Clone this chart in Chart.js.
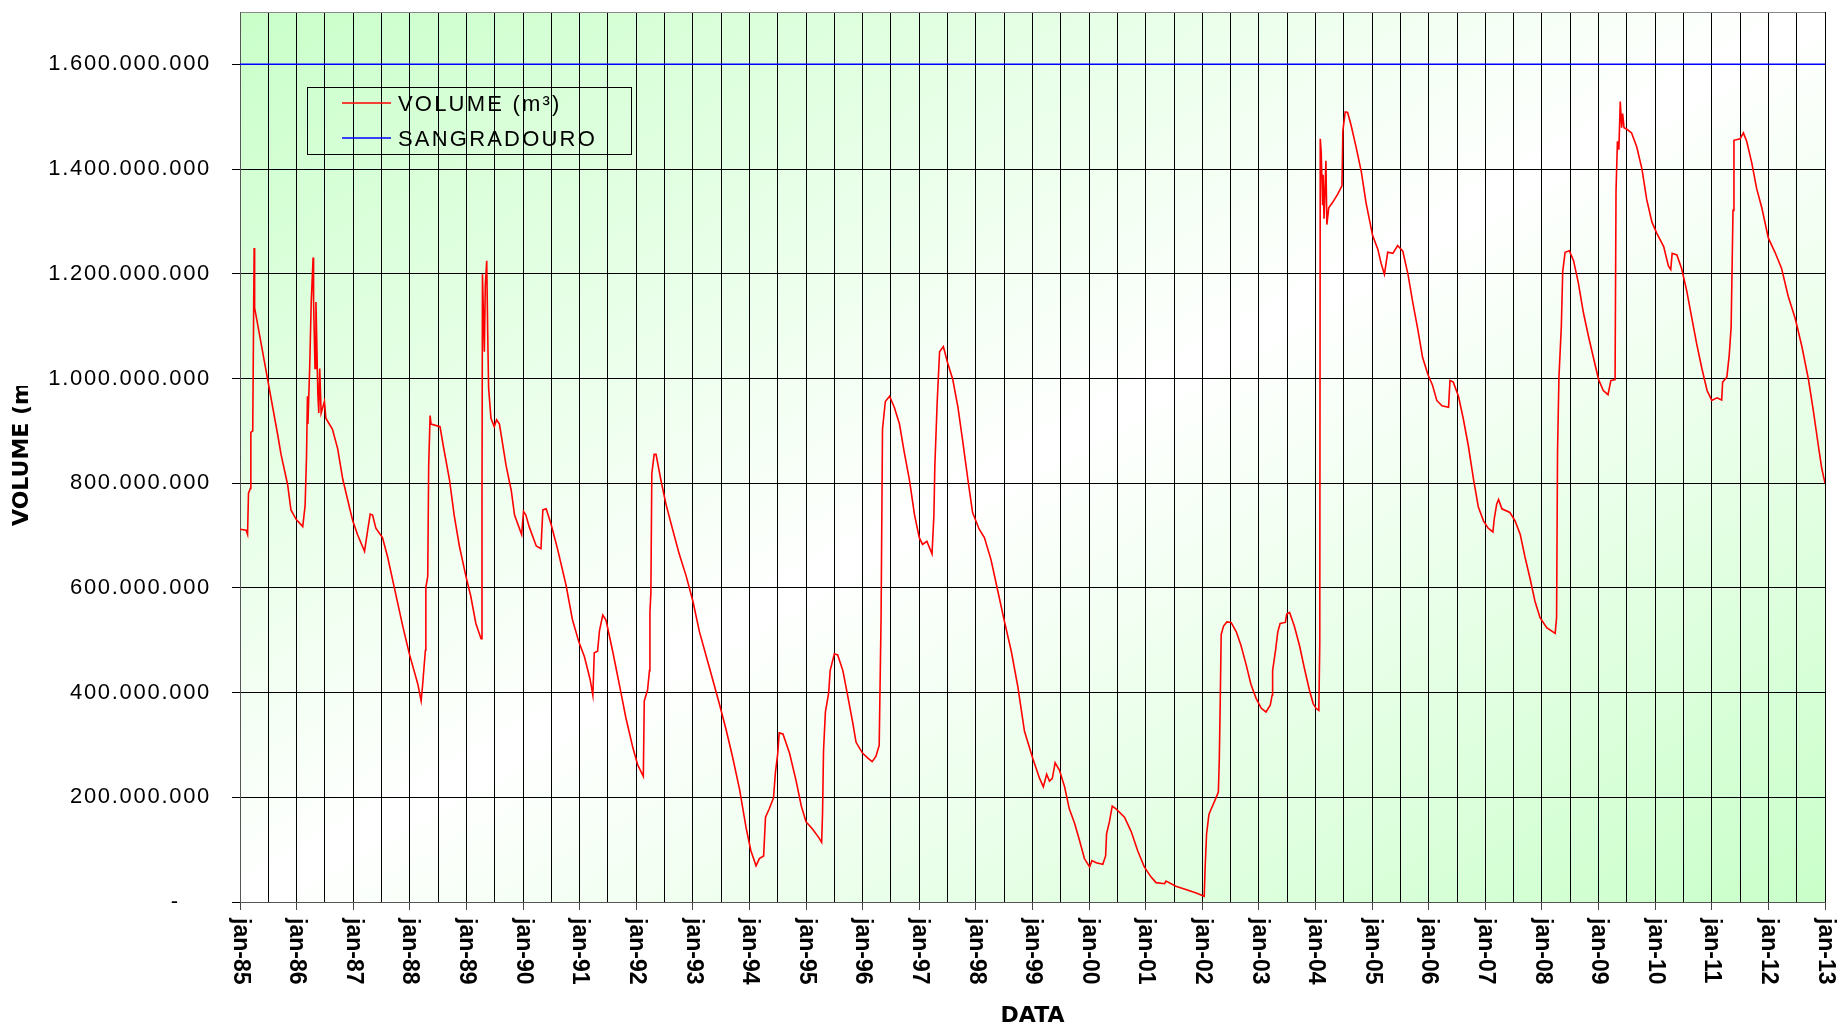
<!DOCTYPE html>
<html>
<head>
<meta charset="utf-8">
<title>Volume x Sangradouro</title>
<script src="https://cdn.jsdelivr.net/npm/chart.js@4.4.1/dist/chart.umd.min.js"></script>
<style>
  html, body { margin: 0; padding: 0; background: #fff; }
  #volumeChart { display: block; }
</style>
</head>
<body>
<canvas id="volumeChart" width="1847" height="1027"></canvas>
<script>
// meses contados a partir de jan/1985
const volumeMonths = [
  0, 1.3, 1.6, 1.8, 2.2, 2.3, 2.7, 2.9, 3.0, 3.1, 8.0, 8.7, 10.1, 10.8, 11.9,
  13.3, 13.8, 14.1, 14.3, 14.4, 14.8, 15.1, 15.5, 15.6, 15.9, 16.1, 16.5, 16.7, 16.9, 17.2, 17.9, 18.2, 19.6, 20.7, 21.8, 23.2,
  23.9, 24.9, 26.4, 27.1, 27.6, 28.1, 28.8, 30.2, 31.3, 32.7, 34.5, 35.9,
  37.7, 38.4, 38.7, 39.3, 39.4, 39.8, 40.0, 40.3, 40.5, 42.4, 43.1, 44.4, 45.4, 46.5, 47.9,
  48.9, 50.0, 51.1, 51.3, 51.4, 51.8, 52.0, 52.3, 52.5, 52.7, 53.2, 53.9, 54.4, 55.0, 56.4, 57.5, 58.2, 59.7,
  60.1, 60.6, 61.3, 62.8, 63.8, 64.2, 64.9, 65.9, 67.3, 69.1, 70.5, 71.9,
  73.0, 74.2, 74.8, 75.1, 75.8, 76.2, 76.9, 77.6, 79.0, 80.4, 81.8, 83.3,
  84.3, 85.5, 85.7, 86.4, 86.8, 86.9, 87.1, 87.3, 87.8, 88.2, 89.2, 90.3, 91.7, 93.1, 94.6,
  96.0, 97.4, 99.5, 101.6, 103.0, 104.4, 105.9, 107.3,
  108.3, 109.4, 110.1, 111.0, 111.4, 112.2, 113.1, 113.5, 114.0, 114.3, 115.1, 116.5, 117.9, 119.0,
  120.0, 121.4, 122.7, 123.3, 123.5, 123.7, 124.1, 124.8, 125.1, 126.0, 126.7, 127.8, 128.8, 129.9, 130.6,
  132.0, 133.1, 134.0, 134.8, 135.5, 135.9, 136.2, 136.8, 137.7, 138.7, 139.8, 140.8, 141.9, 143.0,
  144.0, 144.7, 145.6, 146.7, 147.1, 147.3, 147.8, 148.3, 149.1, 150.0, 151.1, 152.2, 153.2, 154.3, 155.3,
  156.7, 157.8, 159.2, 160.6, 162.0, 163.5, 164.9, 166.3, 168.1, 169.5, 170.3, 171.0, 171.6, 172.2, 172.8, 173.7, 174.8, 175.8, 176.9, 177.9, 179.0,
  180.1, 180.6, 181.5, 182.9, 183.5, 183.7, 184.3, 184.9, 185.7, 187.5, 188.9, 190.3, 191.7,
  193.1, 194.2, 196.0, 196.3, 198.4, 200.5, 202.7,
  204.4, 204.6, 204.9, 205.4, 205.9, 206.9, 207.4, 207.6, 207.8, 208.0, 208.5, 209.2, 210.1, 211.2, 212.2, 213.3, 214.3, 215.4,
  216.5, 217.5, 218.4, 218.8, 218.9, 219.5, 220.0, 220.5, 221.6, 221.9, 222.5, 223.5, 224.6, 225.6, 226.7, 227.5,
  228.1, 228.7, 228.9, 229.0, 229.2, 229.5, 229.6, 229.8, 230.2, 230.4, 230.8, 231.6, 232.7, 233.6, 233.8, 234.3, 234.8, 235.5, 236.6, 237.7, 238.7,
  240.1, 241.2, 241.9, 242.6, 243.3, 244.4, 245.4, 246.5, 247.6, 248.6, 249.7, 250.7, 251.8,
  252.8, 253.7, 254.8, 256.2, 256.5, 257.2, 258.3, 259.3, 260.4, 261.5, 262.5, 263.6,
  264.6, 265.6, 265.9, 266.4, 266.8, 267.5, 269.2, 270.3, 271.4, 272.4, 273.5, 274.5, 275.6,
  277.0, 278.8, 279.1, 279.3, 279.6, 280.1, 280.4, 280.9, 281.8, 282.7, 283.7, 284.8, 285.8, 286.9,
  288.0, 289.0, 290.0, 290.6, 291.5, 291.7, 292.0, 292.3, 292.6, 292.9, 293.1, 293.4, 294.0, 295.0, 296.1, 297.2, 298.2, 299.3,
  300.3, 301.8, 302.8, 303.3, 303.6, 304.6, 305.6, 306.7, 307.8, 308.8, 309.9, 311.0,
  312.0, 313.1, 314.1, 314.3, 315.2, 315.7, 316.1, 316.5, 316.7, 318.0, 318.7, 319.4, 320.5, 321.5, 322.6,
  324.0, 325.4, 326.8, 328.2, 329.7, 331.1, 332.5, 333.5, 334.6, 335.3, 336.0
];

// volume em milhoes de m3
const volumeMillions = [
  712, 710, 702, 781, 790, 897, 900, 1135, 1249, 1135, 892, 855, 797, 749, 731,
  717, 757, 850, 966, 913, 1030, 1146, 1231, 1146, 1019, 1146, 971, 934, 1019, 934, 956, 924, 903, 866, 807, 754,
  728, 702, 670, 712, 741, 739, 714, 696, 659, 601, 527, 474,
  416, 384, 413, 481, 601, 622, 834, 929, 913, 908, 871, 807, 739, 680, 622,
  585, 532, 503, 770, 1199, 1051, 1178, 1225, 1093, 982, 924, 908, 921, 913, 834, 786, 739, 702,
  746, 739, 717, 680, 675, 749, 751, 723, 675, 606, 538, 495,
  469, 426, 395, 476, 479, 518, 548, 538, 479, 416, 352, 294,
  262, 240, 384, 405, 442, 553, 590, 818, 855, 855, 807, 760, 712, 665, 622,
  575, 516, 448, 379, 331, 278, 215, 141,
  98, 69, 83, 88, 162, 178, 199, 247, 284, 323, 321, 284, 231, 183,
  153, 139, 123, 114, 172, 289, 363, 400, 442, 474, 472, 442, 395, 342, 305,
  284, 275, 268, 278, 299, 543, 903, 956, 966, 945, 913, 860, 807, 739,
  696, 683, 689, 665, 739, 834, 956, 1051, 1061, 1030, 998, 945, 881, 807, 744,
  712, 696, 654, 596, 538, 479, 411, 326, 273, 236, 220, 244, 231, 236, 266, 252, 220, 178, 151, 120, 83,
  67, 79, 75, 72, 88, 130, 153, 183, 178, 162, 135, 98, 67,
  48, 37, 35, 40, 30, 24, 17,
  11, 67, 130, 167, 178, 199, 210, 273, 384, 511, 527, 535, 534, 516, 490, 453, 416, 389,
  370, 363, 376, 395, 442, 479, 516, 532, 534, 550, 553, 527, 490, 448, 405, 379,
  370, 366, 495, 1458, 1432, 1331, 1389, 1305, 1416, 1294, 1326, 1336, 1352, 1368, 1474, 1509, 1508, 1485, 1442, 1395, 1336,
  1273, 1247, 1220, 1199, 1241, 1239, 1254, 1243, 1199, 1146, 1093, 1040, 1008,
  987, 958, 948, 945, 996, 993, 966, 924, 871, 807, 755, 728,
  714, 707, 733, 760, 769, 751, 744, 728, 702, 659, 617, 575, 543,
  524, 513, 543, 860, 1003, 1098, 1204, 1241, 1244, 1225, 1183, 1125, 1083, 1040,
  998, 977, 969, 996, 998, 1358, 1453, 1437, 1529, 1479, 1506, 1479, 1476, 1469, 1442, 1400, 1342, 1299,
  1278, 1252, 1215, 1208, 1239, 1236, 1210, 1167, 1114, 1066, 1019, 977,
  958, 963, 959, 993, 1003, 1045, 1098, 1321, 1455, 1458, 1469, 1453, 1411, 1363, 1326,
  1268, 1241, 1210, 1157, 1114, 1061, 998, 940, 871, 829, 800
];

// cota do sangradouro
const spillwayMonths = [0, 336];
const spillwayValues = [1600000000, 1600000000];

const yearLabels = [
  'jan-85', 'jan-86', 'jan-87', 'jan-88', 'jan-89', 'jan-90', 'jan-91', 'jan-92',
  'jan-93', 'jan-94', 'jan-95', 'jan-96', 'jan-97', 'jan-98', 'jan-99', 'jan-00',
  'jan-01', 'jan-02', 'jan-03', 'jan-04', 'jan-05', 'jan-06', 'jan-07', 'jan-08',
  'jan-09', 'jan-10', 'jan-11', 'jan-12', 'jan-13'
];

const Y_MAX = 1700000000;
const Y_STEP = 200000000;

function formatVolume(v) {
  if (v === 0) return '-    ';
  return Math.round(v).toString().replace(/\B(?=(\d{3})+(?!\d))/g, '.');
}

// fundo em degrade, eixo x girado, titulos e legenda
const chartDecor = {
  id: 'chartDecor',
  beforeDraw(chart) {
    const { ctx, chartArea: a } = chart;
    ctx.save();
    ctx.fillStyle = '#ffffff';
    ctx.fillRect(0, 0, chart.width, chart.height);
    ctx.translate(a.left, a.top);
    ctx.scale(a.right - a.left, a.bottom - a.top);
    const g = ctx.createLinearGradient(0, 0, 1, 1);
    g.addColorStop(0, '#c9ffc9');
    g.addColorStop(0.5, '#ffffff');
    g.addColorStop(1, '#c9ffc9');
    ctx.fillStyle = g;
    ctx.fillRect(0, 0, 1, 1);
    ctx.restore();
    // rotulos do eixo y um pouco espacados, como no original
    ctx.letterSpacing = '1.7px';
  },
  afterDraw(chart) {
    const { ctx, chartArea: a } = chart;
    const xs = chart.scales.x;
    ctx.letterSpacing = '0px';

    ctx.save();
    ctx.fillStyle = '#000';

    // rotulos do eixo x, lidos de cima para baixo
    ctx.font = 'bold 23px "Liberation Sans", Arial, sans-serif';
    ctx.textAlign = 'left';
    ctx.textBaseline = 'middle';
    yearLabels.forEach((lab, i) => {
      const px = xs.getPixelForValue(i * 12);
      ctx.save();
      ctx.translate(px, a.bottom + 16);
      ctx.rotate(Math.PI / 2);
      ctx.fillText(lab, 0, 0);
      ctx.restore();
    });

    // titulo do eixo x
    ctx.font = 'bold 22px "DejaVu Sans"';
    ctx.textAlign = 'center';
    ctx.fillText('DATA', (a.left + a.right) / 2, 1016);

    // titulo do eixo y (cortado como no original)
    ctx.save();
    ctx.beginPath();
    ctx.rect(0, 386, 60, 300);
    ctx.clip();
    ctx.translate(22, 526);
    ctx.rotate(-Math.PI / 2);
    ctx.textAlign = 'left';
    ctx.fillText('VOLUME (m³)', 0, 0);
    ctx.restore();

    // legenda
    ctx.strokeStyle = '#000';
    ctx.lineWidth = 1;
    ctx.strokeRect(307.5, 87.5, 324, 67);
    const items = chart.data.datasets;
    const rows = [103, 138];
    ctx.font = '22px "Liberation Sans", Arial, sans-serif';
    ctx.letterSpacing = '2.2px';
    ctx.textAlign = 'left';
    items.forEach((ds, i) => {
      ctx.strokeStyle = ds.borderColor;
      ctx.lineWidth = 1.5;
      ctx.beginPath();
      ctx.moveTo(342, rows[i]);
      ctx.lineTo(391, rows[i]);
      ctx.stroke();
      ctx.fillText(ds.label, 398, rows[i] + 2);
    });
    ctx.letterSpacing = '0px';
    ctx.restore();
  }
};

document.addEventListener('DOMContentLoaded', function() {
  const ctx = document.getElementById('volumeChart').getContext('2d');

  const volumePoints = volumeMonths.map((m, i) => ({ x: m, y: volumeMillions[i] * 1000000 }));
  const spillwayPoints = spillwayMonths.map((m, i) => ({ x: m, y: spillwayValues[i] }));

  new Chart(ctx, {
    type: 'line',
    data: {
      datasets: [{
        label: 'VOLUME (m³)',
        data: volumePoints,
        borderColor: '#ff0000',
        borderWidth: 1.6,
        pointRadius: 0,
        tension: 0
      }, {
        label: 'SANGRADOURO',
        data: spillwayPoints,
        borderColor: '#0000ff',
        borderWidth: 1.5,
        pointRadius: 0,
        tension: 0
      }]
    },
    options: {
      responsive: false,
      animation: false,
      devicePixelRatio: 1,
      layout: { padding: { left: 0, right: 22, top: 12, bottom: 0 } },
      plugins: {
        legend: { display: false },
        tooltip: { enabled: false }
      },
      scales: {
        x: {
          type: 'linear',
          min: 0,
          max: 336,
          afterBuildTicks: function(scale) {
            const t = [];
            for (let m = 0; m <= 336; m += 6) t.push({ value: m });
            scale.ticks = t;
          },
          afterFit: function(scale) { scale.height = 125; },
          ticks: { display: false },
          grid: {
            color: '#000',
            lineWidth: 1,
            tickLength: 8,
            tickColor: function(c) {
              return c.tick && c.tick.value % 12 === 0 ? '#444' : 'rgba(0,0,0,0)';
            }
          },
          border: { color: '#555', width: 1 }
        },
        y: {
          min: 0,
          max: Y_MAX,
          afterBuildTicks: function(scale) {
            const t = [];
            for (let v = 0; v <= Y_MAX; v += Y_STEP) t.push({ value: v });
            t.push({ value: Y_MAX });
            scale.ticks = t;
          },
          afterFit: function(scale) {
            scale.width = 240;
            scale.paddingTop = 0;
            scale.paddingBottom = 0;
          },
          ticks: {
            padding: 21,
            color: '#000',
            font: { family: '"Liberation Sans", Arial, sans-serif', size: 22 },
            callback: function(value) {
              return value % Y_STEP === 0 ? formatVolume(value) : '';
            }
          },
          grid: {
            lineWidth: 1,
            tickLength: 8,
            color: function(c) {
              return c.tick && c.tick.value > 1600000000 ? '#888' : '#000';
            },
            tickColor: function(c) {
              return c.tick && c.tick.value > 1600000000 ? 'rgba(0,0,0,0)' : '#000';
            }
          },
          border: { color: '#555', width: 1 }
        }
      }
    },
    plugins: [chartDecor]
  });
});
</script>
</body>
</html>
